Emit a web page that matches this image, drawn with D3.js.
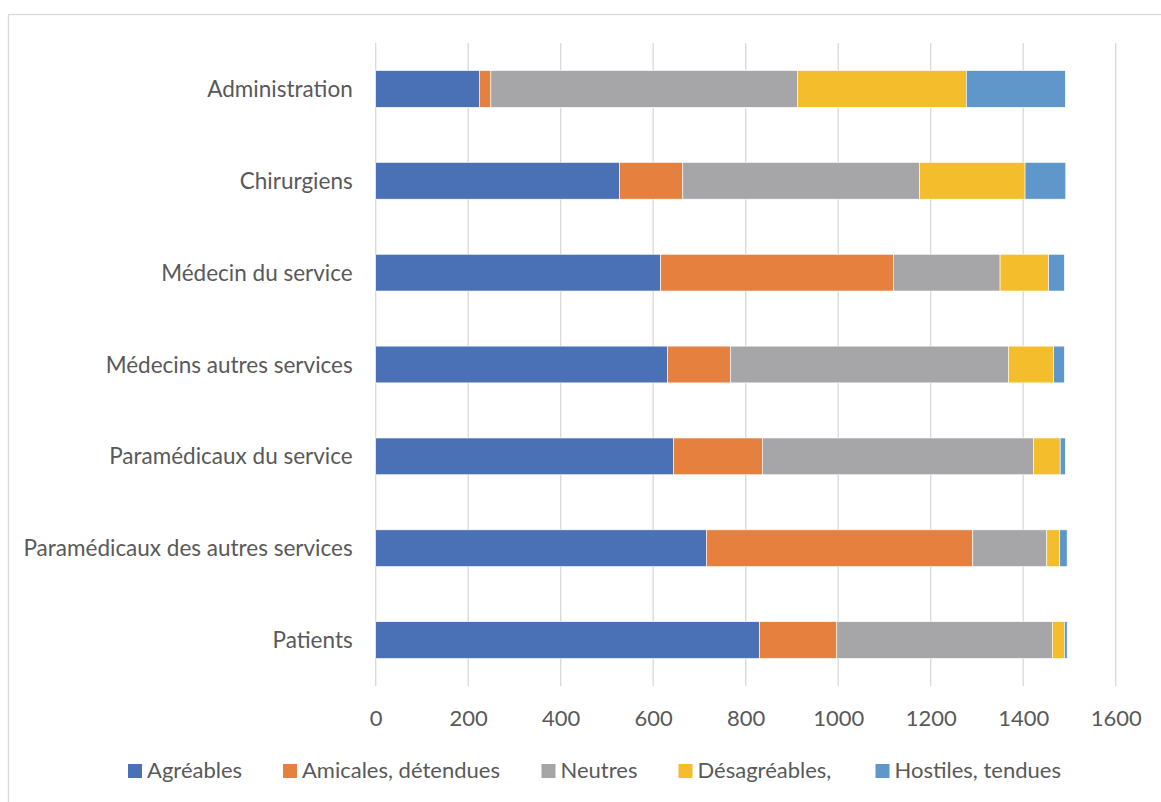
<!DOCTYPE html>
<html><head><meta charset="utf-8">
<script src="https://cdn.jsdelivr.net/npm/d3@7"></script>
<style>body{margin:0;background:#fff;}svg{display:block;}</style>
</head><body>
<svg id="c" width="1161" height="802"></svg>
<script>
const categories = ["Administration","Chirurgiens","Médecin du service","Médecins autres services","Paramédicaux du service","Paramédicaux des autres services","Patients"];
const seriesNames = ["Agréables","Amicales, détendues","Neutres","Désagréables,","Hostiles, tendues"];
const agreables   = [224, 527, 616, 631, 644, 715, 830];
const amicales    = [25, 137, 504, 136, 192, 576, 167];
const neutres     = [663, 512, 230, 601, 586, 160, 466];
const desagreables= [365, 228, 105, 98, 58, 28, 26];
const hostiles    = [214, 88, 34, 23, 11, 16, 6];
const xTicks = [0,200,400,600,800,1000,1200,1400,1600];
const colors = ["#4A71B5","#E5803F","#A6A6A9","#F4BD2B","#5F97CB"];

const seriesValues = [agreables, amicales, neutres, desagreables, hostiles];
const rows = categories.map((c,i)=>{const o={cat:c}; seriesNames.forEach((s,j)=>o[s]=seriesValues[j][i]); return o;});
const stack = d3.stack().keys(seriesNames)(rows);

const svg = d3.select("#c");
const font = "Lato, 'Open Sans', sans-serif";
svg.append("rect").attr("x",8.5).attr("y",14.5).attr("width",1170).attr("height",800)
  .attr("fill","#fff").attr("stroke","#D9D9D9").attr("stroke-width",1.3);

const x = d3.scaleLinear().domain([0,1600]).range([375.7,1115.7]);
const y = d3.scaleBand().domain(categories).range([43,686]).paddingInner(0.6).paddingOuter(0.3);

const g = svg.append("g");
g.selectAll("line.grid").data(xTicks).join("line").attr("class","grid")
  .attr("x1",d=>x(d)).attr("x2",d=>x(d)).attr("y1",43).attr("y2",686)
  .attr("stroke","#D9D9D9").attr("stroke-width",1.3);

g.selectAll("g.s").data(stack).join("g").attr("fill",(d,i)=>colors[i])
  .selectAll("rect").data(d=>d).join("rect")
  .attr("x",d=>x(d[0])).attr("width",d=>x(d[1])-x(d[0]))
  .attr("y",d=>y(d.data.cat)).attr("height",y.bandwidth())
  .attr("stroke","#fff").attr("stroke-width",0.6);

const yAxis = g.append("g").attr("transform","translate(375.7,0)").call(d3.axisLeft(y).tickSize(0).tickPadding(23));
yAxis.select(".domain").remove();
yAxis.selectAll("text").attr("font-family",font).attr("font-size",22.5).attr("fill","#595959")
  .attr("dy","0.36em");

const xAxis = g.append("g").attr("transform","translate(0,686)").call(d3.axisBottom(x).tickValues(xTicks).tickFormat(d3.format("d")).tickSize(0).tickPadding(0));
xAxis.select(".domain").remove();
xAxis.selectAll("text").attr("font-family",font).attr("font-size",22).attr("fill","#595959")
  .attr("y",40).attr("dy",0);

const legendX = [128, 283, 541.5, 678.5, 875.5];
const lg = svg.append("g").selectAll("g").data(seriesNames).join("g")
  .attr("transform",(d,i)=>`translate(${legendX[i]},764)`);
lg.append("rect").attr("width",14).attr("height",14).attr("fill",(d,i)=>colors[i]);
lg.append("text").attr("x",19).attr("y",13.7).text(d=>d)
  .attr("font-family",font).attr("font-size",22).attr("fill","#595959");
</script>
</body></html>
